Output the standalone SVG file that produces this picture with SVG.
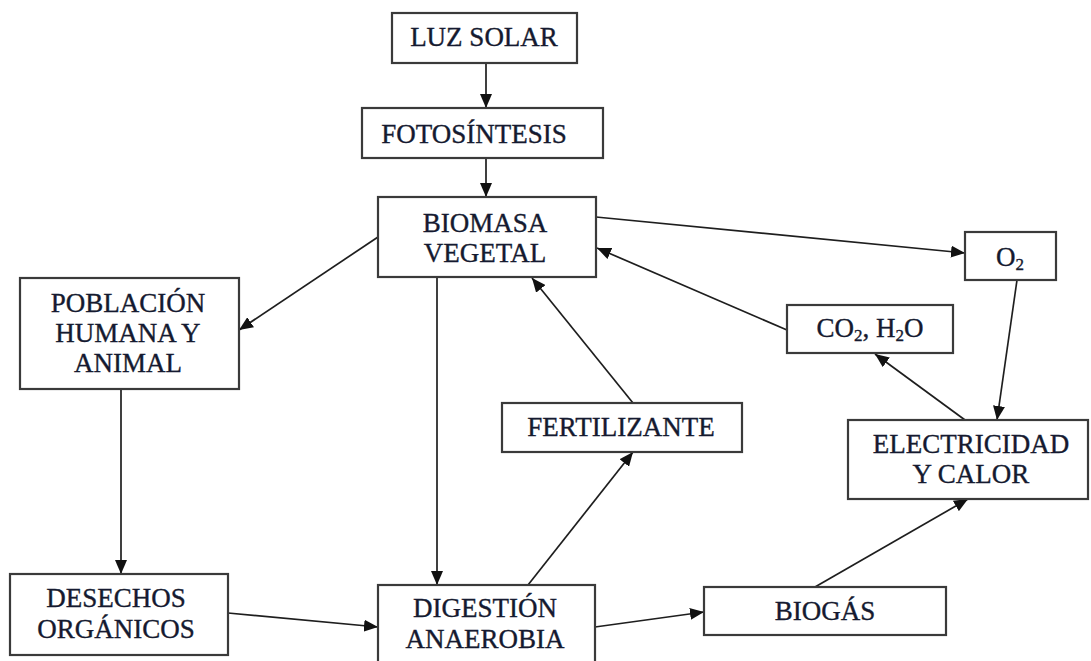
<svg xmlns="http://www.w3.org/2000/svg" width="1091" height="661" viewBox="0 0 1091 661">
<style>
.box{fill:#fff;stroke:#3a3a3a;stroke-width:2.2}
.t{font-family:"Liberation Serif","Times New Roman",serif;font-size:27px;fill:#151a30;stroke:#151a30;stroke-width:0.35;text-anchor:middle}
.sub{font-size:17px}
.c{stroke:#1e1e1e;stroke-width:1.7;fill:none;marker-end:url(#ah)}
</style>
<defs>
<marker id="ah" markerUnits="userSpaceOnUse" markerWidth="14" markerHeight="12" refX="14" refY="6" orient="auto">
<path d="M0,0 L14,6 L0,12 z" fill="#111"/>
</marker>
</defs>
<rect width="1091" height="661" fill="#fff"/>
<g id="connectors">
<line class="c" x1="486" y1="63" x2="486" y2="108"/>
<line class="c" x1="486" y1="158" x2="486" y2="197"/>
<line class="c" x1="596" y1="217" x2="965" y2="253"/>
<line class="c" x1="787" y1="330" x2="597" y2="248"/>
<line class="c" x1="1017" y1="280" x2="997" y2="420"/>
<line class="c" x1="965" y1="420" x2="875" y2="354"/>
<line class="c" x1="378" y1="237" x2="239" y2="330"/>
<line class="c" x1="121" y1="389" x2="121" y2="574"/>
<line class="c" x1="228" y1="613" x2="378" y2="627"/>
<line class="c" x1="437" y1="277" x2="437" y2="585"/>
<line class="c" x1="528" y1="585" x2="633" y2="452"/>
<line class="c" x1="633" y1="403" x2="532" y2="278"/>
<line class="c" x1="595" y1="627" x2="704" y2="612"/>
<line class="c" x1="815" y1="587" x2="968" y2="499"/>
</g>
<g id="luz-solar">
<rect class="box" x="392" y="13" width="185" height="50"/>
<text class="t" x="484" y="46">LUZ SOLAR</text>
</g>
<g id="fotosintesis">
<rect class="box" x="362" y="108" width="241" height="50"/>
<text class="t" x="474" y="143">FOTOSÍNTESIS</text>
</g>
<g id="biomasa">
<rect class="box" x="378" y="197" width="218" height="80"/>
<text class="t" x="485" y="232">BIOMASA</text>
<text class="t" x="485" y="262">VEGETAL</text>
</g>
<g id="o2">
<rect class="box" x="965" y="232" width="91" height="48"/>
<text class="t" x="1010" y="266">O<tspan class="sub" dy="4">2</tspan></text>
</g>
<g id="co2-h2o">
<rect class="box" x="787" y="305" width="166" height="48"/>
<text class="t" x="870" y="337">CO<tspan class="sub" dy="4">2</tspan><tspan dy="-4">, H</tspan><tspan class="sub" dy="4">2</tspan><tspan dy="-4">O</tspan></text>
</g>
<g id="poblacion">
<rect class="box" x="20" y="278" width="219" height="111"/>
<text class="t" x="128" y="312">POBLACIÓN</text>
<text class="t" x="128" y="342">HUMANA Y</text>
<text class="t" x="128" y="372">ANIMAL</text>
</g>
<g id="fertilizante">
<rect class="box" x="502" y="403" width="240" height="49"/>
<text class="t" x="621" y="436">FERTILIZANTE</text>
</g>
<g id="electricidad">
<rect class="box" x="848" y="420" width="240" height="79"/>
<text class="t" x="971" y="453">ELECTRICIDAD</text>
<text class="t" x="971" y="483">Y CALOR</text>
</g>
<g id="desechos">
<rect class="box" x="10" y="574" width="218" height="81"/>
<text class="t" x="116" y="607">DESECHOS</text>
<text class="t" x="116" y="638">ORGÁNICOS</text>
</g>
<g id="digestion">
<rect class="box" x="378" y="585" width="217" height="82"/>
<text class="t" x="485" y="617">DIGESTIÓN</text>
<text class="t" x="485" y="648">ANAEROBIA</text>
</g>
<g id="biogas">
<rect class="box" x="704" y="587" width="242" height="48"/>
<text class="t" x="825" y="620">BIOGÁS</text>
</g>
</svg>
